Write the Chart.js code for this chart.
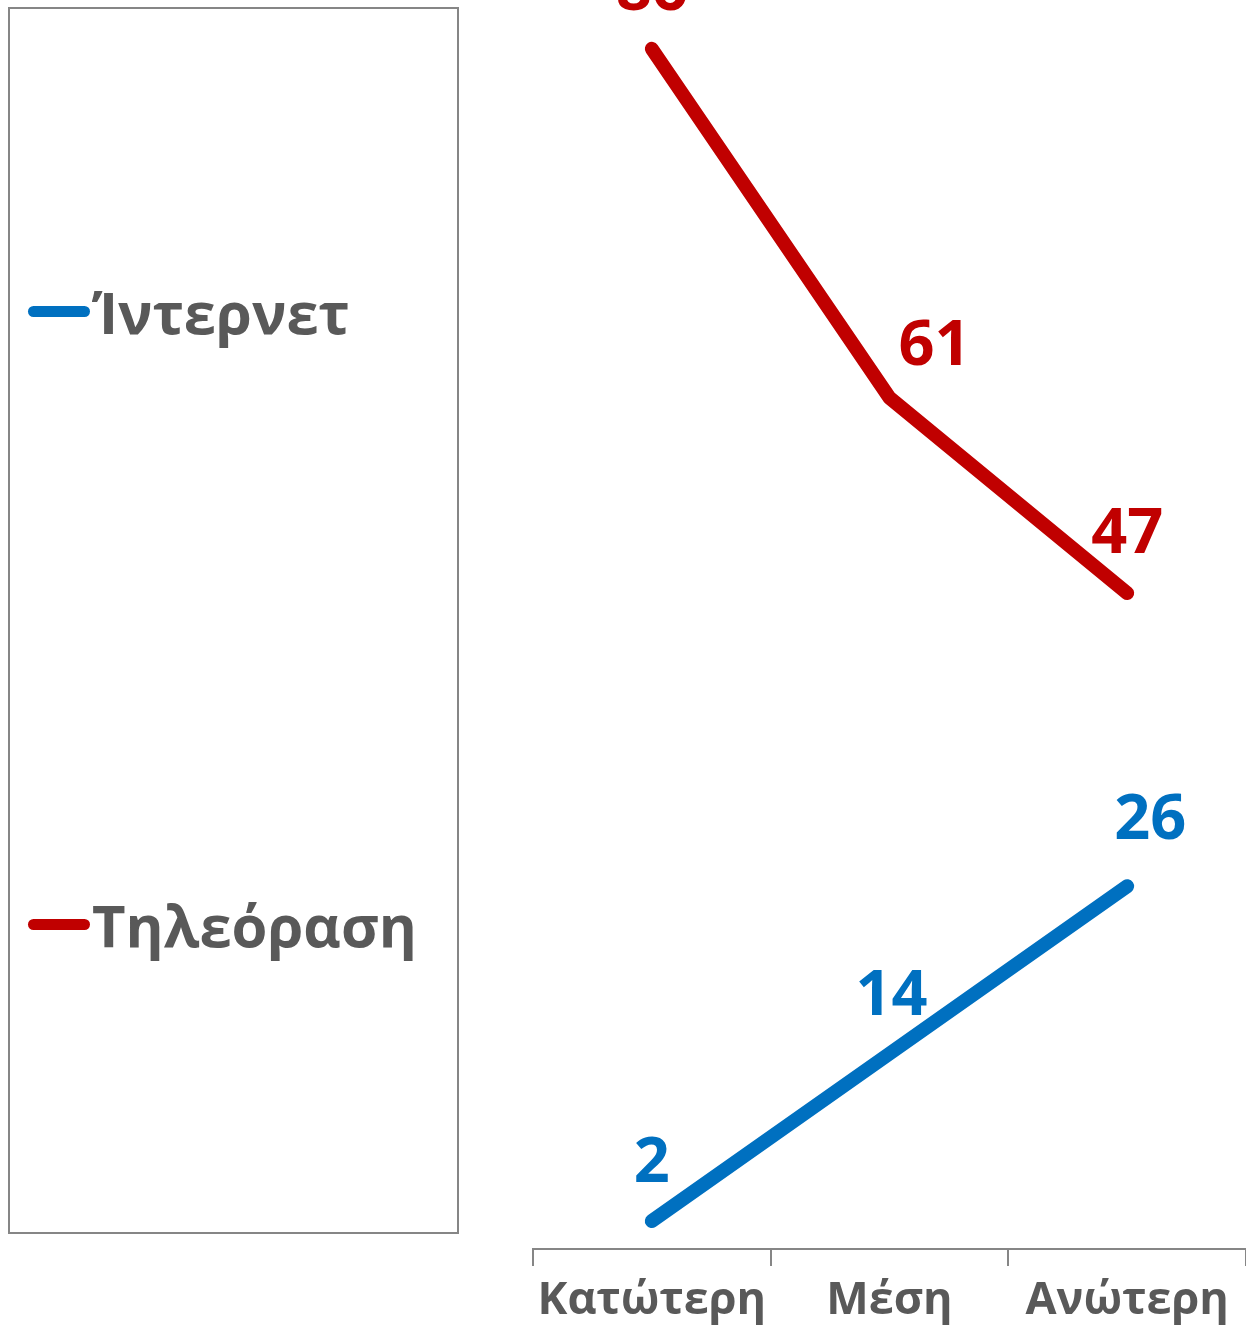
<!DOCTYPE html>
<html>
<head>
<meta charset="utf-8">
<script src="https://cdn.jsdelivr.net/npm/chart.js@4"></script>
<style>
  html, body { margin: 0; padding: 0; background: #fff; }
  #wrap { position: relative; width: 1246px; height: 1330px; overflow: hidden; }
  #chart { position: absolute; left: 0; top: 0; }
  #legend {
    position: absolute; left: 8px; top: 7px; width: 447px; height: 1223px;
    border: 2px solid #868686; font-family: "Open Sans", sans-serif; font-weight: bold;
    color: #595959; font-size: 58px;
  }
  .item { position: absolute; left: 18px; display: flex; align-items: center; }
  .swatch { width: 62px; height: 11px; border-radius: 6px; margin-right: 2px; }
</style>
</head>
<body>
<div id="wrap">
  <canvas id="chart" width="1246" height="1330"></canvas>
  <div id="legend"></div>
</div>
<script>
// data
const categories = ['Κατώτερη', 'Μέση', 'Ανώτερη'];
const internet = [2, 14, 26];
const tv = [86, 61, 47];
const seriesNames = ['Ίντερνετ', 'Τηλεόραση'];
const seriesColors = ['#0070C0', '#C00000'];

// label nudges (dx, dy) so labels sit like the original
const labelShift = [
  [[0, -57], [2, -57], [23, -65]],
  [[0, -57], [45, -51], [0, -58]]
];

const dataLabels = {
  id: 'dataLabels',
  afterDatasetsDraw(chart) {
    const ctx = chart.ctx;
    ctx.save();
    ctx.font = 'bold 63px "Open Sans", sans-serif';
    ctx.textAlign = 'center';
    ctx.textBaseline = 'middle';
    chart.data.datasets.forEach((ds, i) => {
      chart.getDatasetMeta(i).data.forEach((pt, j) => {
        const s = labelShift[i][j];
        ctx.fillStyle = ds.borderColor;
        ctx.fillText(ds.data[j], pt.x + s[0], pt.y + s[1]);
      });
    });
    ctx.restore();
  }
};

const ctx = document.getElementById('chart').getContext('2d');
const myChart = new Chart(ctx, {
  type: 'line',
  data: {
    labels: categories,
    datasets: [
      { label: seriesNames[0], data: internet, borderColor: seriesColors[0] },
      { label: seriesNames[1], data: tv, borderColor: seriesColors[1] }
    ]
  },
  options: {
    responsive: false,
    animation: false,
    clip: false,
    layout: { padding: { left: 533, top: 0, right: -12, bottom: -6 } },
    elements: {
      line: { borderWidth: 14, borderCapStyle: 'round', borderJoinStyle: 'round', tension: 0 },
      point: { radius: 0 }
    },
    plugins: { legend: { display: false }, tooltip: { enabled: false } },
    scales: {
      x: {
        offset: true,
        border: { display: true, color: '#868686', width: 2 },
        grid: { offset: true, drawOnChartArea: false, drawTicks: true, tickLength: 17, color: '#868686', lineWidth: 2 },
        ticks: { color: '#595959', font: { family: '"Open Sans", sans-serif', size: 45, weight: 'bold' }, padding: 8 }
      },
      y: { display: false, min: 0, max: 89.5 }
    }
  },
  plugins: [dataLabels]
});

// legend box built from the datasets
const legend = document.getElementById('legend');
const itemTops = [308, 921];
myChart.data.datasets.forEach((ds, i) => {
  const item = document.createElement('div');
  item.className = 'item';
  item.style.top = (itemTops[i] - 45) + 'px';
  const sw = document.createElement('span');
  sw.className = 'swatch';
  sw.style.background = ds.borderColor;
  const txt = document.createElement('span');
  txt.textContent = ds.label;
  item.appendChild(sw);
  item.appendChild(txt);
  legend.appendChild(item);
});
</script>
</body>
</html>
